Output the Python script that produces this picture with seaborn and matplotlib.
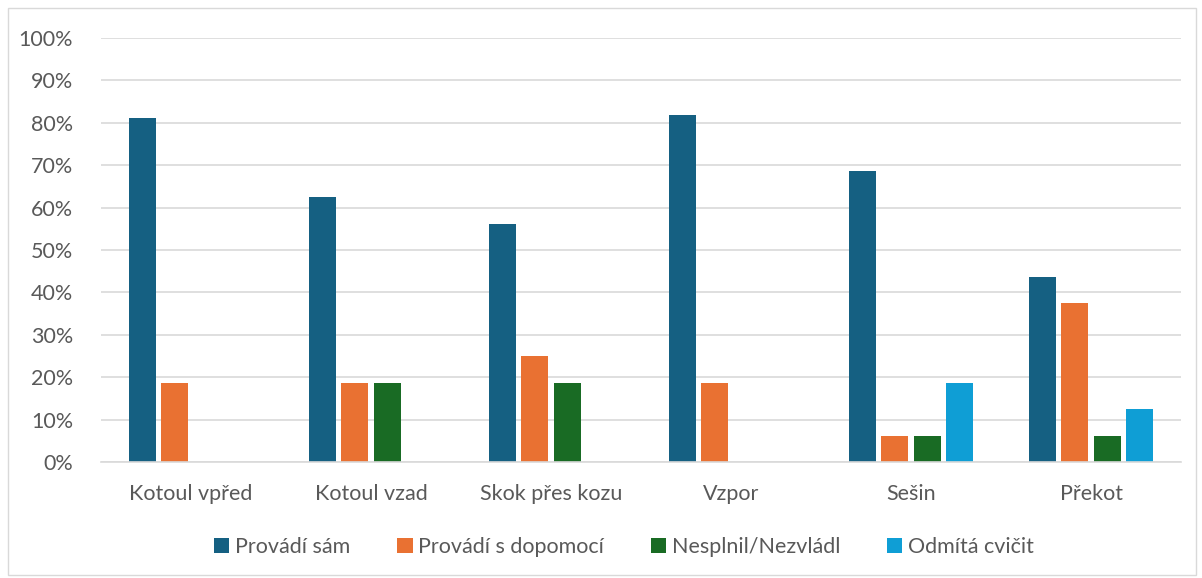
import matplotlib
matplotlib.use("Agg")
import matplotlib.pyplot as plt
import matplotlib.patches as mpatches
import seaborn as sns
import pandas as pd
from matplotlib.ticker import PercentFormatter

categories = ["Kotoul vpřed", "Kotoul vzad", "Skok přes kozu", "Vzpor", "Sešin", "Překot"]
series = ["Provádí sám", "Provádí s dopomocí", "Nesplnil/Nezvládl", "Odmítá cvičit"]
provadi_sam = [0.8125, 0.625, 0.5625, 0.819, 0.6875, 0.4375]
s_dopomoci = [0.1875, 0.1875, 0.25, 0.1875, 0.0625, 0.375]
nesplnil = [0.0, 0.1875, 0.1875, 0.0, 0.0625, 0.0625]
odmita = [0.0, 0.0, 0.0, 0.0, 0.1875, 0.125]
colors = ["#156082", "#E97132", "#196B24", "#0F9ED5"]

rows = []
for s, vals in zip(series, [provadi_sam, s_dopomoci, nesplnil, odmita]):
    for c, v in zip(categories, vals):
        rows.append({"cat": c, "series": s, "val": v})
df = pd.DataFrame(rows)

sns.set_theme(style="white")
plt.rcParams["font.family"] = ["Lato", "DejaVu Sans"]

fig = plt.figure(figsize=(12.02, 5.78), dpi=100)
ax = fig.add_axes([101/1202, (578-462)/578, 1080/1202, (462-38)/578])

sns.barplot(data=df, x="cat", y="val", hue="series", palette=colors,
            width=0.72, gap=0.17, ax=ax, saturation=1, legend=True, linewidth=0)

ax.set_ylim(0, 1.0)
ax.set_xlim(-0.5, 5.5)
ax.set_yticks([i/10 for i in range(11)])
ax.yaxis.set_major_formatter(PercentFormatter(1.0, decimals=0))
ax.grid(axis="y", color="#d9d9d9", linewidth=1.2)
ax.set_axisbelow(True)
for sp in ["top", "right", "left"]:
    ax.spines[sp].set_visible(False)
ax.spines["bottom"].set_color("#d9d9d9")
ax.spines["bottom"].set_linewidth(1.2)
ax.tick_params(axis="both", length=0, labelsize=15.5, colors="#595959")
ax.tick_params(axis="y", pad=20)
ax.tick_params(axis="x", pad=16)
ax.set_xlabel("")
ax.set_ylabel("")

leg = ax.legend(loc="center", bbox_to_anchor=(624/1202, (578-547)/578), bbox_transform=fig.transFigure,
                ncol=4, frameon=False, fontsize=15.5, handlelength=0.7, handleheight=0.7,
                handletextpad=0.25, columnspacing=2.2)
for t in leg.get_texts():
    t.set_color("#595959")

fig.patches.append(mpatches.Rectangle((8/1202, 3/578), 1188/1202, 567/578, transform=fig.transFigure,
                                      fill=False, edgecolor="#d9d9d9", linewidth=1))

fig.savefig("out.png", dpi=100)
